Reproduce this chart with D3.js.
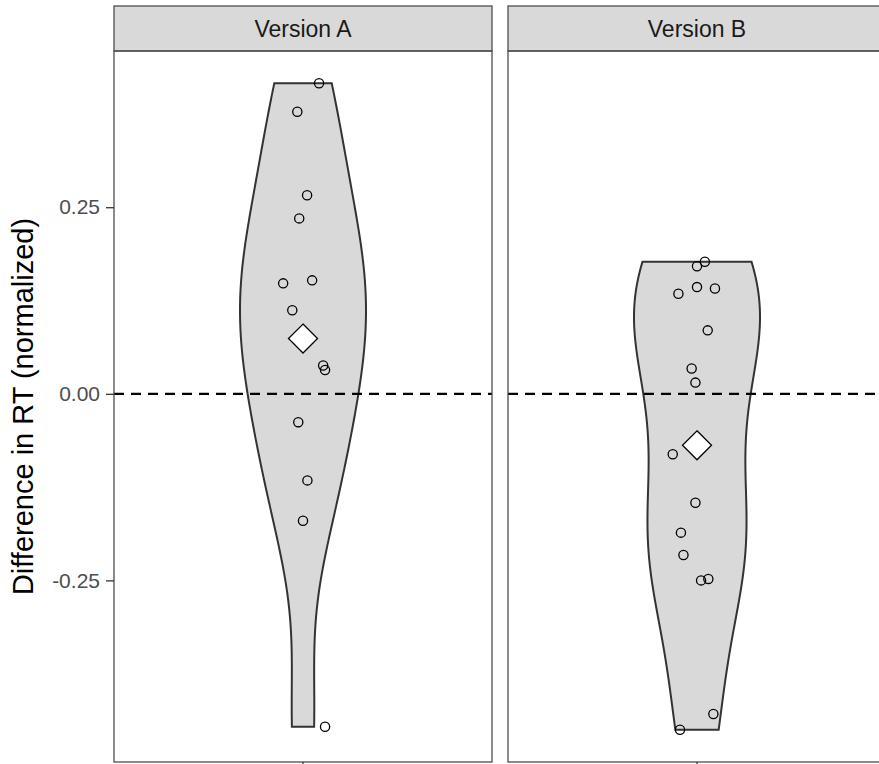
<!DOCTYPE html>
<html>
<head>
<meta charset="utf-8">
<script src="https://cdn.jsdelivr.net/npm/d3@7"></script>
<style>
  body { margin: 0; background: #fff; }
  svg text { font-family: "Liberation Sans", Arial, sans-serif; }
</style>
</head>
<body>
<figure id="violin" style="margin:0"></figure>
<script>
// facet labels
const facets = ["Version A", "Version B"];

// normalized RT differences per version
const valuesA = [0.416, 0.378, 0.266, 0.235, 0.152, 0.148, 0.112, 0.038, 0.032, -0.038, -0.116, -0.170, -0.446];
const valuesB = [0.177, 0.171, 0.143, 0.141, 0.134, 0.085, 0.034, 0.015, -0.081, -0.146, -0.186, -0.216, -0.250, -0.248, -0.429, -0.450];

// horizontal jitter of the points (x units, category centre = 1)
const jitterA = [0.051, -0.018, 0.013, -0.012, 0.029, -0.063, -0.034, 0.064, 0.070, -0.015, 0.014, 0.000, 0.070];
const jitterB = [0.025, 0.000, 0.000, 0.057, -0.059, 0.034, -0.017, -0.005, -0.077, -0.005, -0.051, -0.043, 0.013, 0.036, 0.052, -0.054];

// mean markers (diamonds)
const means = [0.074, -0.069];

const yTicks = [-0.25, 0, 0.25];

const width = 879;
const height = 764;
const left = 114;
const panelWidth = 378;
const gap = 16;
const stripTop = 6;
const stripHeight = 45;
const panelTop = stripTop + stripHeight;
const panelHeight = 711;
const violinWidth = 0.4;

const svg = d3.select("figure#violin")
  .append("svg")
    .attr("width", width)
    .attr("height", height);

// shared y scale (ggplot style 5% expansion)
const all = valuesA.concat(valuesB);
const ext = d3.extent(all);
const pad = (ext[1] - ext[0]) * 0.05;
const y = d3.scaleLinear()
  .domain([ext[0] - pad, ext[1] + pad])
  .range([panelTop + panelHeight, panelTop]);

// x scale for one discrete category
const x = d3.scaleLinear()
  .domain([0.4, 1.6])
  .range([0, panelWidth]);

// gaussian kde with R's bw.nrd0
function kde(values) {
  const s = values.slice().sort(d3.ascending);
  const n = s.length;
  const iqr = d3.quantileSorted(s, 0.75) - d3.quantileSorted(s, 0.25);
  const bw = 0.9 * Math.min(d3.deviation(s), iqr / 1.34) * Math.pow(n, -0.2);
  const grid = d3.range(512).map(i => s[0] + (s[n - 1] - s[0]) * i / 511);
  const dens = grid.map(g => ({
    v: g,
    d: d3.sum(s, v => Math.exp(-0.5 * Math.pow((g - v) / bw, 2))) / (n * bw * Math.sqrt(2 * Math.PI))
  }));
  const maxD = d3.max(dens, e => e.d);
  dens.forEach(e => e.w = e.d / maxD * violinWidth / 2);
  return dens;
}

const groups = [
  {values: valuesA, jitter: jitterA},
  {values: valuesB, jitter: jitterB}
];

groups.forEach((grp, i) => {
  const px = left + i * (panelWidth + gap);
  const g = svg.append("g").attr("transform", "translate(" + px + ",0)");

  // strip
  g.append("rect")
    .attr("x", 0).attr("y", stripTop)
    .attr("width", panelWidth).attr("height", stripHeight)
    .attr("fill", "#d9d9d9")
    .attr("stroke", "#4d4d4d")
    .attr("stroke-width", 1.3);
  g.append("text")
    .attr("x", panelWidth / 2)
    .attr("y", stripTop + stripHeight / 2)
    .attr("dy", "0.35em")
    .style("text-anchor", "middle")
    .style("font-size", "23px")
    .attr("fill", "#1a1a1a")
    .text(facets[i]);

  // violin
  const area = d3.area()
    .y(d => y(d.v))
    .x0(d => x(1 - d.w))
    .x1(d => x(1 + d.w));
  g.append("path")
    .datum(kde(grp.values))
    .attr("d", area)
    .attr("fill", "#d9d9d9")
    .attr("stroke", "#333333")
    .attr("stroke-width", 2);

  // reference line at zero
  g.append("line")
    .attr("x1", 0).attr("x2", panelWidth)
    .attr("y1", y(0)).attr("y2", y(0))
    .attr("stroke", "#000")
    .attr("stroke-width", 2.2)
    .attr("stroke-dasharray", "10,7");

  // jittered points
  g.selectAll("circle.pt")
    .data(grp.values)
    .enter()
    .append("circle")
      .attr("class", "pt")
      .attr("cx", (d, j) => x(1 + grp.jitter[j]))
      .attr("cy", d => y(d))
      .attr("r", 4.6)
      .attr("fill", "none")
      .attr("stroke", "#000")
      .attr("stroke-width", 1.3);

  // mean diamond
  const m = 14.5;
  const cx = x(1), cy = y(means[i]);
  g.append("path")
    .attr("d", "M" + cx + "," + (cy - m) + "L" + (cx + m) + "," + cy + "L" + cx + "," + (cy + m) + "L" + (cx - m) + "," + cy + "Z")
    .attr("fill", "#fff")
    .attr("stroke", "#000")
    .attr("stroke-width", 1.3);

  // panel border
  g.append("rect")
    .attr("x", 0).attr("y", panelTop)
    .attr("width", panelWidth).attr("height", panelHeight)
    .attr("fill", "none")
    .attr("stroke", "#4d4d4d")
    .attr("stroke-width", 1.3);

  // bottom tick (labels fall outside the picture)
  g.append("line")
    .attr("x1", x(1)).attr("x2", x(1))
    .attr("y1", panelTop + panelHeight).attr("y2", panelTop + panelHeight + 8)
    .attr("stroke", "#333333")
    .attr("stroke-width", 1.3);
});

// y axis
const yAxis = svg.append("g")
  .attr("transform", "translate(" + left + ",0)")
  .call(d3.axisLeft(y).tickValues(yTicks)
    .tickFormat(d => d3.format(".2f")(d).replace("\u2212", "-"))
    .tickSize(8).tickPadding(6));
yAxis.select(".domain").remove();
yAxis.selectAll(".tick line").attr("stroke", "#333333").attr("stroke-width", 1.3);
yAxis.selectAll(".tick text")
  .attr("fill", "#4d4d4d")
  .style("font-size", "21px")
  .style("font-family", "'Liberation Sans', Arial, sans-serif");

// y axis title
svg.append("text")
  .attr("transform", "translate(33," + (panelTop + panelHeight / 2) + ") rotate(-90)")
  .style("text-anchor", "middle")
  .style("font-size", "29px")
  .attr("fill", "#000")
  .text("Difference in RT (normalized)");
</script>
</body>
</html>
